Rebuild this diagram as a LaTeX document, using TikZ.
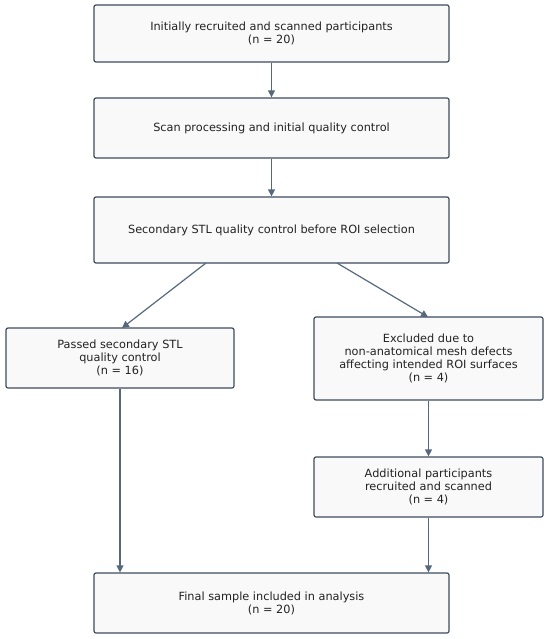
\documentclass[tikz,border=0pt]{standalone}
\usepackage{fontspec}
\setmainfont{DejaVu Sans}
\usetikzlibrary{arrows.meta}
\definecolor{boxline}{HTML}{3E4C5C}
\definecolor{arrline}{HTML}{56697C}
\definecolor{boxfill}{HTML}{F9F9F9}
\definecolor{txt}{HTML}{222222}
\begin{document}
\begin{tikzpicture}[x=1pt,y=-1pt,
  flowbox/.style={draw=boxline, fill=boxfill, line width=1.2pt, rounded corners=2pt,
    inner sep=0pt, align=center, text=txt, font=\fontsize{11.3}{13}\selectfont},
  flowarrow/.style={draw=arrline, line width=1.2pt, -{Triangle[length=7pt,width=7pt]}}]
\useasboundingbox (0,0) rectangle (550,639);
\node[flowbox, minimum width=355pt, minimum height=57pt] (b1) at (271.5,33.5) {Initially recruited and scanned participants\\(n = 20)};
\node[flowbox, minimum width=355pt, minimum height=60pt] (b2) at (271.5,128) {Scan processing and initial quality control};
\node[flowbox, minimum width=355pt, minimum height=66pt] (b3) at (271.5,230) {Secondary STL quality control before ROI selection};
\node[flowbox, minimum width=228pt, minimum height=60pt] (b4) at (120,358) {Passed secondary STL\\quality control\\(n = 16)};
\node[flowbox, minimum width=229pt, minimum height=83pt] (b5) at (428.5,358.5) {Excluded due to\\non-anatomical mesh defects\\affecting intended ROI surfaces\\(n = 4)};
\node[flowbox, minimum width=229pt, minimum height=60pt] (b6) at (428.5,487) {Additional participants\\recruited and scanned\\(n = 4)};
\node[flowbox, minimum width=355pt, minimum height=60pt] (b7) at (271.5,603) {Final sample included in analysis\\(n = 20)};
\coordinate (a3l) at (206,263);
\coordinate (a3r) at (337,263);
\coordinate (a4t) at (122,328);
\coordinate (a5t) at (428,317);
\draw[flowarrow] (b1.south) -- (b2.north);
\draw[flowarrow] (b2.south) -- (b3.north);
\draw[flowarrow] (a3l) -- (a4t);
\draw[flowarrow] (a3r) -- (a5t);
\draw[flowarrow] (b4.south) -- (b4.south |- b7.north);
\draw[flowarrow] (b5.south) -- (b6.north);
\draw[flowarrow] (b6.south) -- (b6.south |- b7.north);
\end{tikzpicture}
\end{document}
